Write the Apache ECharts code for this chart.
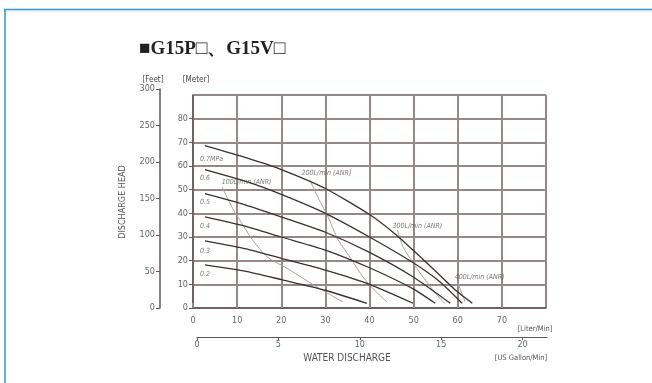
<!DOCTYPE html>
<html>
<head>
<meta charset="utf-8">
<title>G15 pump curve</title>
<style type="text/css">
    *{ margin:0; padding:0; }
    html,body{ width:652px; height:383px; background:#fff; overflow:hidden; }
    #main{ width:652px; height:383px; }
</style>
</head>
<body>
<div id="main"></div>
<script src="https://cdn.jsdelivr.net/npm/echarts@6/dist/echarts.min.js"></script>
<script type="text/javascript">
// 吐出量 (L/min) / 全揚程 (m)
var flowTicks = [0, 10, 20, 30, 40, 50, 60, 70];
var gallonTicks = [0, 5, 10, 15, 20];
var meterTicks = [0, 10, 20, 30, 40, 50, 60, 70, 80];
var feetTicks = [0, 50, 100, 150, 200, 250, 300];

// pressure curves [flow, head]
var p07 = [[2.7,68.6],[12,63.5],[20,58.5],[30,50.5],[40,39.5],[46,31],[51,22.5],[55,15.5],[59.5,7.5],[63.3,2]];
var p06 = [[2.7,58.5],[12,53.5],[20,48],[30,40],[40,30],[50,19],[56,11],[61,2]];
var p05 = [[2.7,48.3],[12,43.5],[20,38.5],[30,32],[40,23.5],[50,13],[58.3,2]];
var p04 = [[2.7,38.5],[12,34.5],[20,30],[30,24.5],[40,17],[50,8],[54.9,2]];
var p03 = [[2.7,28.4],[12,25],[20,21],[30,16],[40,10],[49.9,2]];
var p02 = [[2.7,18.2],[12,15.5],[20,12],[30,7.5],[39.4,2]];
var pressureNames = ['0.7MPa', '0.6', '0.5', '0.4', '0.3', '0.2'];

// air consumption curves [flow, head]
var air100 = [[6.6,51],[9,42],[11,36],[13.4,29],[16.8,21.6],[22,16],[28,9],[34,2.5]];
var air200 = [[26.5,54],[28.5,46],[30.4,39.4],[32.9,28.8],[36,20.3],[38.5,13.1],[41.7,6.4],[44,2.5]];
var air300 = [[46.3,33],[47.6,25.8],[49.9,19],[52.6,11.9],[55.3,5.5],[57,2]];
var air400 = [[59.9,11],[61.7,2.5]];
var airNames = ['100L/min (ANR)', '200L/min (ANR)', '300L/min (ANR)', '400L/min (ANR)'];

// text anchors [flow, head]
var pressureLabelPos = [[1.6,62.7],[1.6,54.7],[1.6,44.5],[1.6,34.7],[1.6,24.2],[1.6,14.4]];
var airLabelPos = [[6.5,53],[24.6,56.8],[45.2,34.7],[59.3,13.1]];

var myChart = echarts.init(document.getElementById('main'));

var narrow = '"Liberation Sans Narrow", "DejaVu Sans Condensed", sans-serif';
var gridColor = '#968886';
var axisColor = '#625655';
var darkLine = '#3a3030';
var grayLine = '#a59e9d';

function curve(data, color, w) {
    return {
        type: 'line', xAxisIndex: 0, yAxisIndex: 0,
        data: data, smooth: 0.2, symbol: 'none', silent: true,
        lineStyle: { color: color, width: w }
    };
}

function textLayer(pos, names) {
    return {
        type: 'scatter', xAxisIndex: 0, yAxisIndex: 0,
        symbolSize: 0, silent: true,
        data: pos.map(function (p, i) { return { value: p, name: names[i] }; }),
        label: {
            show: true, position: 'right', distance: 0,
            formatter: '{b}', fontStyle: 'italic',
            fontSize: 7, color: '#555', fontFamily: narrow
        }
    };
}

var option = {
    animation: false,
    grid: [
        { left: 193, right: 106, top: 95, bottom: 75 },   // メイン
        { left: 160, width: 1, top: 89, bottom: 75 },     // Feet
        { left: 197, right: 105, top: 336, bottom: 46 }   // US Gallon
    ],
    xAxis: [
        {
            type: 'value', gridIndex: 0, min: 0, max: 80, interval: 10, offset: 4,
            axisLine: { show: true, lineStyle: { color: axisColor, width: 1.5 } },
            axisTick: { show: true, inside: true, length: 5, lineStyle: { color: gridColor, width: 2 } },
            axisLabel: { showMaxLabel: false, fontSize: 9, color: '#666', margin: 4, fontFamily: narrow },
            splitLine: { show: true, lineStyle: { color: gridColor, width: 2 } }
        },
        { type: 'value', gridIndex: 1, show: false },
        {
            type: 'value', gridIndex: 2, min: 0, max: 21.5, interval: 5, position: 'bottom',
            axisLine: { show: true, lineStyle: { color: axisColor, width: 1.2 } },
            axisTick: { show: true, length: 3, lineStyle: { color: axisColor } },
            axisLabel: { showMaxLabel: false, fontSize: 9, color: '#666', margin: 3, fontFamily: narrow },
            splitLine: { show: false }
        }
    ],
    yAxis: [
        {
            type: 'value', gridIndex: 0, min: 0, max: 90, interval: 10,
            axisLine: { show: true, lineStyle: { color: axisColor, width: 1.5 } },
            axisTick: { show: true, length: 4, lineStyle: { color: axisColor } },
            axisLabel: { showMaxLabel: false, fontSize: 9, color: '#666', margin: 5, fontFamily: narrow },
            splitLine: { show: true, lineStyle: { color: gridColor, width: 2 } }
        },
        {
            type: 'value', gridIndex: 1, min: 0, max: 300, interval: 50,
            axisLine: { show: true, lineStyle: { color: axisColor, width: 1.5 } },
            axisTick: { show: true, length: 4, lineStyle: { color: axisColor } },
            axisLabel: { fontSize: 9, color: '#666', margin: 5, fontFamily: narrow },
            splitLine: { show: false }
        },
        { type: 'value', gridIndex: 2, show: false }
    ],
    graphic: [
        { type: 'line', shape: { x1: 4, y1: 9.5, x2: 652, y2: 9.5 }, style: { stroke: '#2f95d8', lineWidth: 1.5 } },
        { type: 'line', shape: { x1: 5, y1: 11, x2: 652, y2: 11 }, style: { stroke: '#c6e5f6', lineWidth: 1 } },
        { type: 'line', shape: { x1: 5, y1: 9, x2: 5, y2: 383 }, style: { stroke: '#2f95d8', lineWidth: 1.5 } },
        { type: 'text', left: 139, top: 40, style: { text: '■G15P□、G15V□', fontSize: 19, fontWeight: 'bold', fontFamily: '"Liberation Serif", "DejaVu Serif", serif', fill: '#222' } },
        { type: 'text', x: 153, y: 80, style: { text: '[Feet]', fontSize: 8, fill: '#444', fontFamily: narrow, align: 'center', verticalAlign: 'middle' } },
        { type: 'text', x: 196, y: 80, style: { text: '[Meter]', fontSize: 8, fill: '#444', fontFamily: narrow, align: 'center', verticalAlign: 'middle' } },
        { type: 'text', x: 123, y: 202, rotation: Math.PI / 2, style: { text: 'DISCHARGE HEAD', fontSize: 9, fill: '#555', fontFamily: narrow, align: 'center', verticalAlign: 'middle' } },
        { type: 'text', x: 535, y: 329, style: { text: '[Liter/Min]', fontSize: 7.5, fill: '#555', fontFamily: narrow, align: 'center', verticalAlign: 'middle' } },
        { type: 'text', x: 347, y: 358, style: { text: 'WATER DISCHARGE', fontSize: 10, fill: '#555', fontFamily: narrow, align: 'center', verticalAlign: 'middle' } },
        { type: 'text', x: 521, y: 358, style: { text: '[US Gallon/Min]', fontSize: 7.5, fill: '#555', fontFamily: narrow, align: 'center', verticalAlign: 'middle' } }
    ],
    series: [
        curve(air100, grayLine, 1),
        curve(air200, grayLine, 1),
        curve(air300, grayLine, 1),
        curve(air400, grayLine, 1),
        curve(p07, darkLine, 1.3),
        curve(p06, darkLine, 1.3),
        curve(p05, darkLine, 1.3),
        curve(p04, darkLine, 1.3),
        curve(p03, darkLine, 1.3),
        curve(p02, darkLine, 1.3),
        textLayer(pressureLabelPos, pressureNames),
        textLayer(airLabelPos, airNames)
    ]
};

myChart.setOption(option);
</script>
</body>
</html>
